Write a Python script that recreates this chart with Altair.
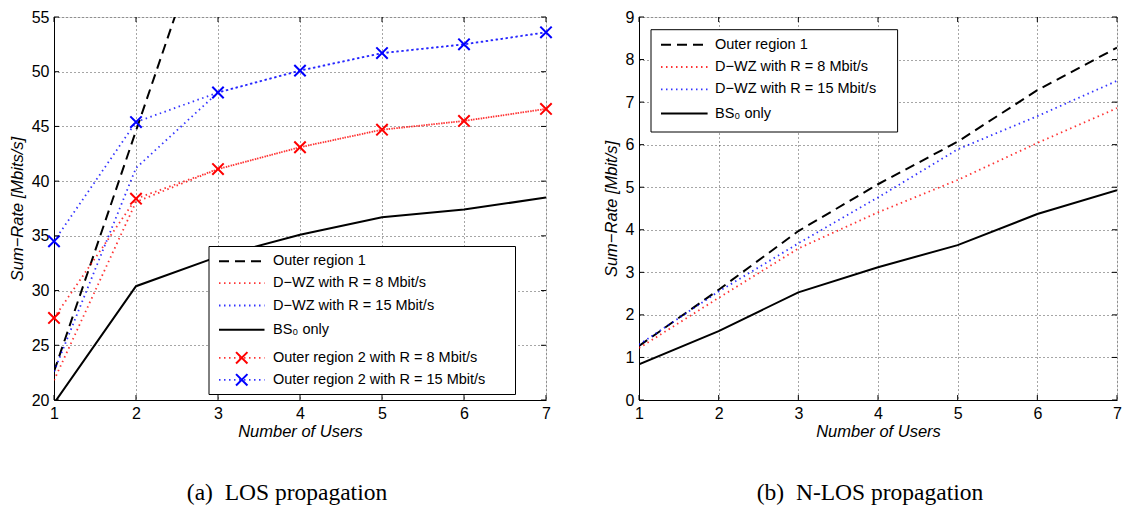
import altair as alt
import pandas as pd

# ---------------- data ----------------
users = [1, 2, 3, 4, 5, 6, 7]

# (a) LOS propagation
los_outer1_x = [1, 2, 3]
los_outer1 = [22.6, 44.6, 66.6]
los_dwz8 = [21.8, 38.1, 41.1, 43.1, 44.7, 45.5, 46.6]
los_dwz15 = [22.6, 41.2, 48.1, 50.1, 51.7, 52.5, 53.6]
los_or2_8 = [27.5, 38.4, 41.1, 43.1, 44.7, 45.5, 46.6]
los_or2_15 = [34.5, 45.4, 48.1, 50.1, 51.7, 52.5, 53.6]
los_bs0 = [19.7, 30.4, 33.1, 35.1, 36.7, 37.4, 38.5]

# (b) N-LOS propagation
nlos_outer1 = [1.27, 2.59, 3.97, 5.07, 6.07, 7.28, 8.28]
nlos_dwz8 = [1.22, 2.40, 3.56, 4.41, 5.17, 6.04, 6.86]
nlos_dwz15 = [1.30, 2.55, 3.68, 4.76, 5.89, 6.67, 7.50]
nlos_bs0 = [0.84, 1.62, 2.53, 3.12, 3.64, 4.37, 4.93]

x_ticks = [1, 2, 3, 4, 5, 6, 7]
los_y_ticks = [20, 25, 30, 35, 40, 45, 50, 55]
nlos_y_ticks = [0, 1, 2, 3, 4, 5, 6, 7, 8, 9]

lbl_outer1 = "Outer region 1"
lbl_dwz8 = "D\u2212WZ with R = 8 Mbit/s"
lbl_dwz15 = "D\u2212WZ with R = 15 Mbit/s"
lbl_bs0 = "BS\u2080 only"
lbl_or2_8 = "Outer region 2 with R = 8 Mbit/s"
lbl_or2_15 = "Outer region 2 with R = 15 Mbit/s"

# ---------------- styles ----------------
H = 383
SANS = "Liberation Sans"
SERIF = "Liberation Serif"
RED, BLUE, BLACK = "#ff0000", "#0000ff", "#000000"
XPATH = "M-1,-1L1,1M-1,1L1,-1"

STY = {
    "dash": dict(color=BLACK, strokeWidth=2, strokeDash=[10, 6]),
    "solid": dict(color=BLACK, strokeWidth=2),
    "dotr": dict(color=RED, strokeWidth=1.8, strokeDash=[1.5, 3.5], opacity=0.8),
    "dotb": dict(color=BLUE, strokeWidth=1.8, strokeDash=[1.5, 3.5], opacity=0.8),
}


def xaxis():
    return alt.Axis(values=x_ticks, grid=True, gridColor="#000", gridDash=[1, 3],
                    gridOpacity=0.7, ticks=False, domainColor="#000",
                    labelFont=SANS, labelFontSize=16, labelColor="#000", labelPadding=5,
                    labelFlush=False, format="d",
                    title="Number of Users", titleFont=SANS, titleFontSize=16.5,
                    titleFontStyle="italic", titleFontWeight="normal", titleColor="#000",
                    titlePadding=2)


def yaxis(ticks, title):
    return alt.Axis(values=ticks, grid=True, gridColor="#000", gridDash=[1, 3],
                    gridOpacity=0.7, ticks=False, domainColor="#000",
                    labelFont=SANS, labelFontSize=16, labelColor="#000", labelPadding=5,
                    labelFlush=False, format="d",
                    title=title, titleFont=SANS, titleFontSize=16.5,
                    titleFontStyle="italic", titleFontWeight="normal", titleColor="#000",
                    titlePadding=6)


def panel(W, series, markers, ydom, yticks, ytitle, legend, caption, cap_dx):
    xs = alt.Scale(domain=[1, 7], nice=False, zero=False)
    ys = alt.Scale(domain=ydom, nice=False, zero=False)
    XA = xaxis()
    YA = yaxis(yticks, ytitle)
    layers = []
    for xv, yv, sty in series:
        df = pd.DataFrame({"x": xv, "y": yv})
        layers.append(alt.Chart(df).mark_line(clip=True, **STY[sty]).encode(
            x=alt.X("x:Q", scale=xs, axis=XA), y=alt.Y("y:Q", scale=ys, axis=YA)))
    for xv, yv, col in markers:
        df = pd.DataFrame({"x": xv, "y": yv})
        layers.append(alt.Chart(df).mark_point(shape=XPATH, size=130, strokeWidth=2,
                                               color=col, filled=False, opacity=1,
                                               clip=False)
                      .encode(x=alt.X("x:Q", scale=xs, axis=XA),
                              y=alt.Y("y:Q", scale=ys, axis=YA)))
    # inward ticks (matlab style)
    txd = pd.DataFrame({"x": x_ticks})
    tyd = pd.DataFrame({"y": yticks})
    layers.append(alt.Chart(txd).mark_rule(color="#000", strokeWidth=1)
                  .encode(x=alt.X("x:Q", scale=xs, axis=XA), y=alt.value(H), y2=alt.value(H - 5)))
    layers.append(alt.Chart(txd).mark_rule(color="#000", strokeWidth=1)
                  .encode(x=alt.X("x:Q", scale=xs, axis=XA), y=alt.value(0), y2=alt.value(5)))
    layers.append(alt.Chart(tyd).mark_rule(color="#000", strokeWidth=1)
                  .encode(y=alt.Y("y:Q", scale=ys, axis=YA), x=alt.value(0), x2=alt.value(5)))
    layers.append(alt.Chart(tyd).mark_rule(color="#000", strokeWidth=1)
                  .encode(y=alt.Y("y:Q", scale=ys, axis=YA), x=alt.value(W), x2=alt.value(W - 5)))

    # legend
    (bx1, bx2, by1, by2), sx1, sx2, tx0, entries = legend
    box = pd.DataFrame({"x1": [bx1], "x2": [bx2], "y1": [by1], "y2": [by2]})
    layers.append(alt.Chart(box).mark_rect(fill="white", stroke="#000", strokeWidth=1)
                  .encode(x=alt.X("x1:Q", scale=None), x2="x2:Q",
                          y=alt.Y("y1:Q", scale=None), y2="y2:Q"))
    for label, ry, sty, mcol in entries:
        row = pd.DataFrame({"x1": [sx1], "x2": [sx2], "xm": [(sx1 + sx2) / 2],
                            "y": [ry], "tx": [tx0], "label": [label]})
        layers.append(alt.Chart(row).mark_rule(**STY[sty])
                      .encode(x=alt.X("x1:Q", scale=None), x2="x2:Q",
                              y=alt.Y("y:Q", scale=None)))
        if mcol:
            layers.append(alt.Chart(row).mark_point(shape=XPATH, size=130, strokeWidth=2,
                                                    color=mcol, filled=False, opacity=1)
                          .encode(x=alt.X("xm:Q", scale=None), y=alt.Y("y:Q", scale=None)))
        layers.append(alt.Chart(row).mark_text(align="left", baseline="middle", font=SANS,
                                               fontSize=14.5, color="#000")
                      .encode(x=alt.X("tx:Q", scale=None), y=alt.Y("y:Q", scale=None),
                              text="label:N"))
    return alt.layer(*layers).properties(
        width=W, height=H,
        title=alt.TitleParams(caption, orient="bottom", font=SERIF, fontSize=23.5,
                              fontWeight="normal", color="#000", anchor="middle",
                              frame="group", offset=41.5, dx=cap_dx))


left = panel(
    492,
    series=[(los_outer1_x, los_outer1, "dash"),
            (users, los_dwz8, "dotr"),
            (users, los_dwz15, "dotb"),
            (users, los_bs0, "solid"),
            (users, los_or2_8, "dotr"),
            (users, los_or2_15, "dotb")],
    markers=[(users, los_or2_8, RED), (users, los_or2_15, BLUE)],
    ydom=[20, 55], yticks=los_y_ticks, ytitle="Sum\u2212Rate [Mbits/s]",
    legend=((155, 461.5, 229.5, 377.5), 165, 210.5, 219,
            [(lbl_outer1, 244.2, "dash", None),
             (lbl_dwz8, 266.2, "dotr", None),
             (lbl_dwz15, 288.5, "dotb", None),
             (lbl_bs0, 312.8, "solid", None),
             (lbl_or2_8, 340.8, "dotr", RED),
             (lbl_or2_15, 362.8, "dotb", BLUE)]),
    caption="(a)\u2002LOS propagation", cap_dx=-13)

right = panel(
    478,
    series=[(users, nlos_outer1, "dash"),
            (users, nlos_dwz8, "dotr"),
            (users, nlos_dwz15, "dotb"),
            (users, nlos_bs0, "solid")],
    markers=[],
    ydom=[0, 9], yticks=nlos_y_ticks, ytitle="Sum\u2212Rate [Mbit/s]",
    legend=((12, 258.6, 12.7, 115), 22, 68.6, 76,
            [(lbl_outer1, 27.7, "dash", None),
             (lbl_dwz8, 50, "dotr", None),
             (lbl_dwz15, 72.3, "dotb", None),
             (lbl_bs0, 96.5, "solid", None)]),
    caption="(b)\u2002N-LOS propagation", cap_dx=-8)

chart = alt.hconcat(left, right, spacing=45).properties(
    padding={"left": 0, "top": 0, "right": 0, "bottom": 0}
).configure_view(stroke="#000", strokeWidth=1).configure(background="white")

chart.save("out.html", embed_options={"renderer": "svg", "actions": False})
